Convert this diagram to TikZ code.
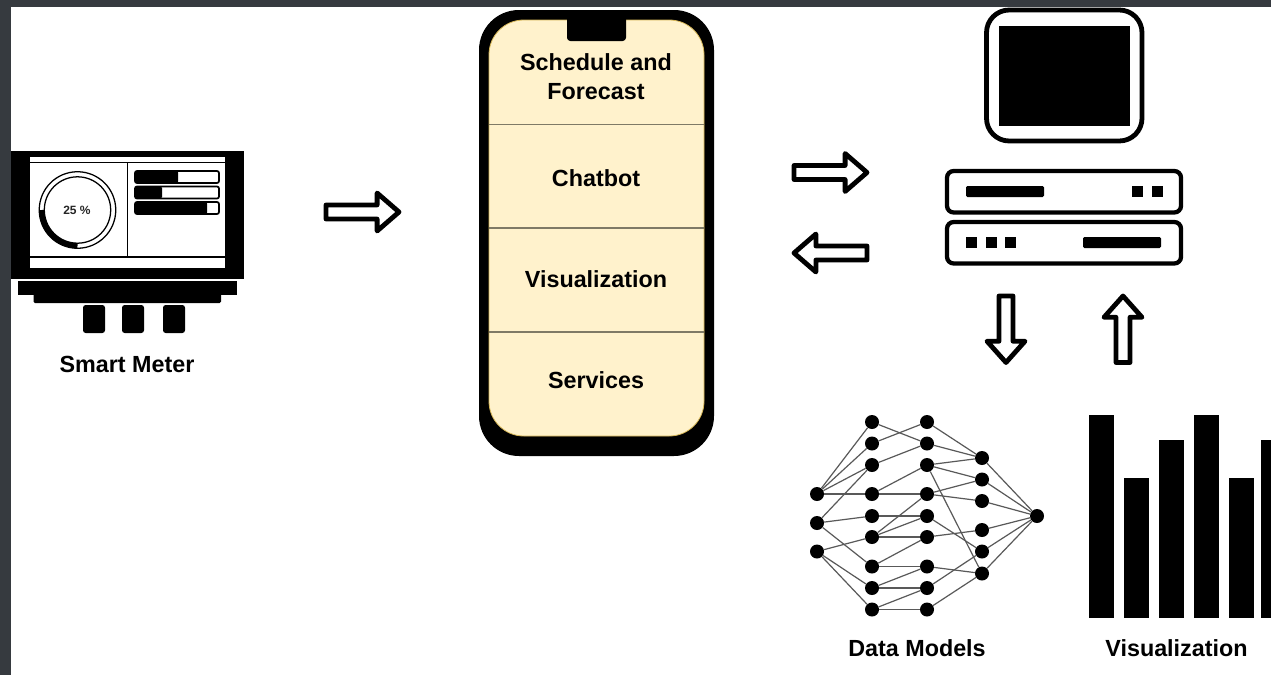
\documentclass[tikz,border=0pt]{standalone}
\usepackage{fontspec}
\setmainfont{Liberation Sans}
\definecolor{frame}{HTML}{363A3F}
\definecolor{cream}{HTML}{FFF2CC}
\definecolor{creamline}{HTML}{D6B656}
\definecolor{rowline}{HTML}{7F7A66}
\begin{document}
\begin{tikzpicture}[x=0.75pt,y=-0.75pt,
  lbl/.style={font=\fontsize{17.5pt}{21.5pt}\selectfont\bfseries,align=center,text=black,inner sep=0pt},
  blk/.style={fill=black,draw=none},
  ln/.style={line width=0.9pt,draw=black!65},
  dot/.style={circle,fill=black,minimum size=10.5pt,inner sep=0pt,draw=none},
  bigarrow/.style={draw=black,fill=white,line width=3.6pt,line join=round},
  bar/.style={rounded corners=1.5pt,draw=black,fill=white,line width=1.3pt},
  srv/.style={rounded corners=5pt,draw=black,fill=white,line width=3.2pt}]
\useasboundingbox (0,0) rectangle (1271,675);
\fill[white] (0,0) rectangle (1271,675);
\fill[frame] (0,0) rectangle (1271,7);
\fill[frame] (0,0) rectangle (11,675);

% smart meter
\fill[blk] (11,151) rectangle (244,279);
\fill[white] (30,157) rectangle (225,268);
\draw[line width=0.9pt] (30,162.5) -- (225,162.5);
\draw[line width=0.9pt] (30,257) -- (225,257);
\draw[line width=0.9pt] (127.5,162.5) -- (127.5,257);
\fill[blk] (18,281) rectangle (237,295);
\fill[blk,rounded corners=1pt] (33.5,290) rectangle (221,303);
\foreach \x in {83,122,163}
  \fill[blk,rounded corners=2pt] (\x,305) rectangle ++(22,28);
\coordinate (gauge) at (77.5,210);
\draw[line width=0.95pt] (gauge) circle[radius=28.7pt];
\draw[line width=0.95pt] (gauge) circle[radius=24.9pt];
\draw[line width=3.9pt] (gauge) ++(180:26.8pt) arc[start angle=180,end angle=270,radius=26.8pt];
\node[font=\fontsize{9pt}{11pt}\selectfont\bfseries,text=black!85,inner sep=0pt] (pct) at (77,210) {25 \%};
\foreach \y/\e [count=\i] in {171/178,186.5/162,202/207}{
  \draw[bar] (135,\y) rectangle (219,\y+12);
  \fill[blk,rounded corners=1pt] (135,\y) rectangle (\e,\y+12);
}
\node[lbl] (sm) at (127,364) {Smart Meter};

% phone
\fill[blk,rounded corners=30pt] (479,10) rectangle (714,456);
\draw[draw=creamline,fill=cream,line width=0.6pt,rounded corners=26pt] (489,20) rectangle (704,436);
\foreach \y in {124.5,228,332}
  \draw[rowline,line width=1pt] (489,\y) -- (704,\y);
\fill[blk,rounded corners=2.5pt] (567,15) rectangle (626,41);
\node[lbl] (s1) at (596,76.5) {Schedule and\\Forecast};
\node[lbl] (s2) at (596,178) {Chatbot};
\node[lbl] (s3) at (596,279) {Visualization};
\node[lbl] (s4) at (596,380) {Services};

% block arrows
\newcommand{\harrow}[3]{% tail x, tip x, y
  \pgfmathsetmacro{\hb}{#2+(#1-#2)*0.3}
  \draw[bigarrow] (#1,#3-7) -- (\hb,#3-7) -- (\hb,#3-19) -- (#2,#3) -- (\hb,#3+19) -- (\hb,#3+7) -- (#1,#3+7) -- cycle;}
\newcommand{\varrow}[3]{% tail y, tip y, x
  \pgfmathsetmacro{\hb}{#2+(#1-#2)*0.32}
  \draw[bigarrow] (#3-7,#1) -- (#3-7,\hb) -- (#3-19,\hb) -- (#3,#2) -- (#3+19,\hb) -- (#3+7,\hb) -- (#3+7,#1) -- cycle;}
\harrow{326}{399}{212}
\harrow{794}{867}{172.5}
\harrow{867}{794}{253}
\varrow{296}{362.5}{1006}
\varrow{362.5}{296}{1123}

% computer
\draw[draw=black,fill=white,line width=3.6pt,rounded corners=17pt] (986.5,10) rectangle (1142,141);
\fill[blk] (998.5,25.5) rectangle (1130,125.5);
\draw[srv] (947,171) rectangle (1181,212.5);
\draw[srv] (947,222) rectangle (1181,263.5);
\fill[blk,rounded corners=1pt] (966,186) rectangle (1044,197);
\fill[blk] (1132,186) rectangle ++(11,11);
\fill[blk] (1151.5,186) rectangle ++(11,11);
\fill[blk] (966,237) rectangle ++(11,11);
\fill[blk] (985.5,237) rectangle ++(11,11);
\fill[blk] (1005,237) rectangle ++(11,11);
\fill[blk,rounded corners=1pt] (1083,237) rectangle (1161,248);

% network
\foreach \n/\x/\y in {
 a1/817/494,a2/817/523,a3/817/551.5,
 b1/872/422,b2/872/443.5,b3/872/465,b4/872/494,b5/872/516,b6/872/537,b7/872/566.5,b8/872/588,b9/872/609.5,
 c1/927/422,c2/927/443.5,c3/927/465,c4/927/494,c5/927/516,c6/927/537,c7/927/566.5,c8/927/588,c9/927/609.5,
 d1/982/458,d2/982/479.5,d3/982/501,d4/982/530,d5/982/551.5,d6/982/573.5,
 e1/1037/516}
  \node[dot] (\n) at (\x,\y) {};
\foreach \p/\q in {a1/b1,a1/b2,a1/b3,a1/b4,a2/b3,a2/b5,a2/b7,a3/b6,a3/b8,a3/b9,
 b1/c2,b2/c1,b3/c2,b4/c3,b4/c4,b5/c5,b6/c4,b6/c5,b6/c6,b7/c6,b7/c7,b8/c7,b8/c8,b9/c8,b9/c9,
 c1/d1,c2/d1,c3/d1,c3/d2,c3/d6,c4/d2,c4/d3,c5/d5,c6/d4,c7/d6,c8/d5,c9/d6,
 d1/e1,d2/e1,d3/e1,d4/e1,d5/e1,d6/e1}
  \draw[ln] (\p) -- (\q);
\node[lbl] (dm) at (917,648.5) {Data Models};

% bar chart
\foreach \x/\y in {1089.3/415,1124.3/478,1159.3/440,1194.3/415,1229.3/478,1261/440}
  \fill[blk] (\x,\y) rectangle (\x+24.7,618.3);
\node[lbl] (vz) at (1176.5,648.5) {Visualization};
\end{tikzpicture}
\end{document}
